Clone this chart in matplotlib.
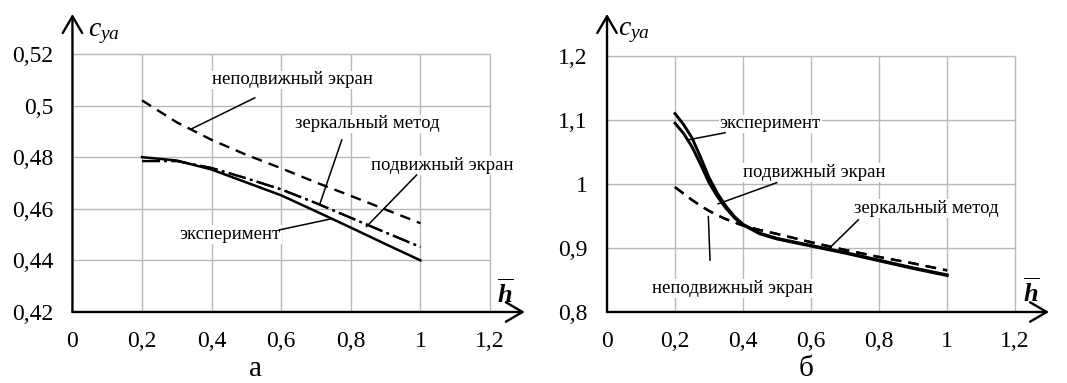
import matplotlib
matplotlib.use('Agg')
import matplotlib.pyplot as plt

plt.rcParams['font.family'] = 'Liberation Serif'
plt.rcParams['mathtext.fontset'] = 'custom'
plt.rcParams['mathtext.rm'] = 'Liberation Serif'
plt.rcParams['mathtext.it'] = 'Liberation Serif:italic'
plt.rcParams['mathtext.bf'] = 'Liberation Serif:bold:italic'

# --- данные, панель а ---
h_a = [0.2, 0.3, 0.4, 0.5, 0.6, 0.7, 0.8, 0.9, 1.0]
exp_a = [0.4800, 0.4787, 0.4752, 0.4702, 0.4652, 0.4590, 0.4527, 0.4463, 0.4400]
moving_a = [0.4785, 0.4785, 0.4758, 0.4718, 0.4675, 0.4622, 0.4565, 0.4508, 0.4452]
mirror_a = [0.4785, 0.4785, 0.4758, 0.4718, 0.4675, 0.4622, 0.4565, 0.4508, 0.4452]
fixed_a = [0.5020, 0.4935, 0.4867, 0.4809, 0.4757, 0.4702, 0.4650, 0.4597, 0.4544]

# --- данные, панель б ---
h_b = [0.2, 0.225, 0.25, 0.275, 0.3, 0.325, 0.35, 0.375, 0.4, 0.45, 0.5, 0.6, 0.7, 0.8, 0.9, 1.0]
exp_b = [1.110, 1.093, 1.072, 1.042, 1.010, 0.985, 0.965, 0.949, 0.937, 0.923, 0.915, 0.904, 0.893, 0.881, 0.869, 0.858]
moving_b = [1.095, 1.079, 1.058, 1.031, 1.002, 0.980, 0.962, 0.947, 0.936, 0.922, 0.914, 0.903, 0.892, 0.880, 0.868, 0.857]
fixed_b = [0.995, 0.985, 0.975, 0.966, 0.958, 0.951, 0.945, 0.940, 0.935, 0.928, 0.922, 0.909, 0.897, 0.886, 0.876, 0.865]
mirror_b = [0.995, 0.985, 0.975, 0.966, 0.958, 0.951, 0.945, 0.940, 0.935, 0.928, 0.922, 0.909, 0.897, 0.886, 0.876, 0.865]

x_ticks = [0, 0.2, 0.4, 0.6, 0.8, 1.0, 1.2]
x_labels = ['0', '0,2', '0,4', '0,6', '0,8', '1', '1,2']
y_ticks_a = [0.42, 0.44, 0.46, 0.48, 0.50, 0.52]
y_labels_a = ['0,42', '0,44', '0,46', '0,48', '0,5', '0,52']
y_ticks_b = [0.8, 0.9, 1.0, 1.1, 1.2]
y_labels_b = ['0,8', '0,9', '1', '1,1', '1,2']

GRID = '#b8b8b8'
FS_TICK = 17
FS_NOTE = 13.5


def setup_axes(ax, ylim, yticks, ylabels, xmax):
    ax.set_xlim(0, xmax)
    ax.set_ylim(*ylim)
    for s in ax.spines.values():
        s.set_visible(False)
    # сетка только в пределах 0..1,2
    ax.hlines(yticks[1:], 0, x_ticks[-1], color=GRID, lw=1, zorder=0)
    ax.vlines(x_ticks[1:], yticks[0], yticks[-1], color=GRID, lw=1, zorder=0)
    # оси со стрелками
    arrow = dict(arrowstyle='->,head_length=0.6,head_width=0.35', lw=1.7,
                 color='black', mutation_scale=20, shrinkA=0, shrinkB=0)
    ax.annotate('', xy=(0, ylim[1]), xytext=(0, ylim[0]), arrowprops=arrow,
                annotation_clip=False)
    ax.annotate('', xy=(xmax, ylim[0]), xytext=(0, ylim[0]), arrowprops=arrow,
                annotation_clip=False)
    ax.set_xticks(x_ticks, x_labels)
    ax.set_yticks(yticks, ylabels)
    ax.tick_params(axis='x', length=0, pad=14, labelsize=FS_TICK)
    ax.tick_params(axis='y', length=0, pad=14, labelsize=FS_TICK)


def note(ax, text, pos, start, end):
    ax.text(pos[0], pos[1], text, fontsize=FS_NOTE, ha='center', va='center',
            bbox=dict(facecolor='white', edgecolor='none', pad=0.5), zorder=3)
    ax.plot([start[0], end[0]], [start[1], end[1]], color='black', lw=1.1, zorder=4)


fig = plt.figure(figsize=(10.67, 3.83), dpi=100)

# ---------------- а ----------------
ax1 = fig.add_axes([0.0679, 0.1854, 0.4240, 0.7781])
setup_axes(ax1, (0.42, 0.5355), y_ticks_a, y_labels_a, 1.3)
ax1.plot(h_a, fixed_a, color='black', lw=1.7, dashes=(4.5, 3.0), zorder=5)
ax1.plot(h_a, mirror_a, color='black', lw=1.6, dashes=(8, 2, 1.2, 2), zorder=5)
ax1.plot(h_a, moving_a, color='black', lw=1.6, dashes=(8, 2, 1.2, 2), zorder=5)
ax1.plot(h_a, exp_a, color='black', lw=1.8, zorder=5)

note(ax1, 'неподвижный экран', (0.631, 0.5100), (0.524, 0.5030), (0.341, 0.4909))
note(ax1, 'зеркальный метод', (0.846, 0.4929), (0.774, 0.4867), (0.711, 0.4619))
note(ax1, 'подвижный экран', (1.062, 0.4767), (0.989, 0.4731), (0.845, 0.4531))
note(ax1, 'эксперимент', (0.454, 0.4501), (0.594, 0.4518), (0.740, 0.4560))

ax1.text(0.045, 0.528, r'$c_{ya}$', fontsize=20, ha='left', va='center')
ax1.text(1.245, 0.4272, r'$\overline{\mathbf{h}}$', fontsize=19, ha='center', va='center')

# ---------------- б ----------------
ax2 = fig.add_axes([0.5689, 0.1854, 0.4143, 0.7781])
setup_axes(ax2, (0.8, 1.2656), y_ticks_b, y_labels_b, 1.3)
ax2.plot(h_b, fixed_b, color='black', lw=1.7, dashes=(4.5, 3.0), zorder=5)
ax2.plot(h_b, mirror_b, color='black', lw=1.7, dashes=(4.5, 3.0), zorder=5)
ax2.plot(h_b, moving_b, color='black', lw=2.1, zorder=5)
ax2.plot(h_b, exp_b, color='black', lw=2.1, zorder=5)

note(ax2, 'эксперимент', (0.480, 1.094), (0.347, 1.080), (0.239, 1.069))
note(ax2, 'подвижный экран', (0.610, 1.018), (0.499, 1.002), (0.327, 0.969))
note(ax2, 'зеркальный метод', (0.940, 0.962), (0.739, 0.944), (0.649, 0.897))
note(ax2, 'неподвижный экран', (0.368, 0.837), (0.303, 0.881), (0.298, 0.949))

ax2.text(0.033, 1.236, r'$c_{ya}$', fontsize=20, ha='left', va='center')
ax2.text(1.249, 0.830, r'$\overline{\mathbf{h}}$', fontsize=19, ha='center', va='center')

fig.text(256 / 1067, 1 - 376 / 383, 'а', fontsize=21, ha='center', va='baseline')
fig.text(806 / 1067, 1 - 376 / 383, 'б', fontsize=21, ha='center', va='baseline')

fig.savefig('out.png', dpi=100)
